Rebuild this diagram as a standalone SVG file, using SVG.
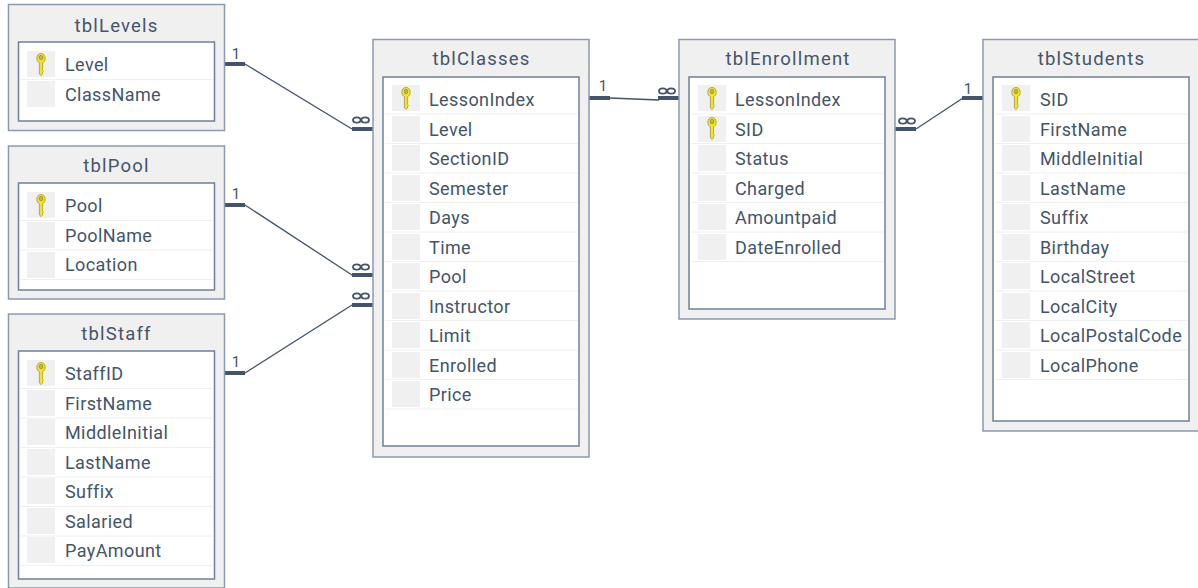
<svg xmlns="http://www.w3.org/2000/svg" width="1198" height="588" viewBox="0 0 1198 588">
<style>
text{font-family:"Roboto","Liberation Sans",sans-serif;fill:#44546a}
.o{fill:#f0f0f0;stroke:#8c9aae;stroke-width:1.5}
.i{fill:#fff;stroke:#6f8098;stroke-width:1.5}
.t{font-size:18.500px;text-anchor:middle;letter-spacing:1.200px}
.f{font-size:18px;letter-spacing:.4px}
.c{fill:#f0f0f0}
.s{stroke:#f0f0f0;stroke-width:1}
.l{fill:none;stroke:#44546a;stroke-width:1.3}
.b{fill:#44546a}
.n{font-size:15px;text-anchor:middle}
.inf{fill:none;stroke:#44546a;stroke-width:1.800}
</style>
<defs>
<g id="key"><path d="M0-10.500C2.700-10.500 4.200-8.500 4.200-5.800 4.200-3.600 3.200-2 1.600-1.300V6.500L2.600 7.500 1.600 8.500V10L0 11.500-1.600 10V-1.300C-3.200-2-4.200-3.600-4.200-5.800-4.200-8.500-2.700-10.500 0-10.500Z" fill="#f2e32a" stroke="#a79a2c" stroke-width=".8"/><ellipse cy="-6.500" rx="1.800" ry="2.200" fill="#c2b556" stroke="#8f8a3a" stroke-width=".7"/></g>
<g id="inf"><ellipse cx="-4.200" cy="0" rx="3.800" ry="2.700" class="inf"/><ellipse cx="4.200" cy="0" rx="3.800" ry="2.700" class="inf"/></g>
</defs>
<g id="connectors">
<path class="l" d="M245 64 352 129M245 205 352 275M245 373 352 305M610 98 659 100M916 129 963 98"/>
<path class="b" d="M224 62h21v4h-21zM352 127h21v4h-21zM224 203h21v4h-21zM352 273h21v4h-21zM224 371h21v4h-21zM352 303h21v4h-21zM589 96h21v4h-21zM658 96h21v4h-21zM895 127h21v4h-21zM962 96h21v4h-21z"/>
<text class="n" x="236" y="58.500">1</text><text class="n" x="236" y="198.500">1</text><text class="n" x="236" y="367">1</text><text class="n" x="603" y="91">1</text><text class="n" x="968" y="94">1</text>
<use href="#inf" x="361" y="120"/><use href="#inf" x="361" y="267"/><use href="#inf" x="361" y="296"/><use href="#inf" x="667" y="91"/><use href="#inf" x="907" y="121"/>
</g>
<g id="tblLevels">
<rect class="o" x="8.500" y="4.500" width="216" height="126"/><rect class="i" x="18.500" y="42" width="196" height="79"/>
<text class="t" x="116.500" y="32">tblLevels</text>
<path class="s" d="M20 79.500H213"/>
<rect class="c" x="27" y="51" width="28" height="26"/><rect class="c" x="27" y="81" width="28" height="26"/>
<use href="#key" x="41" y="64"/>
<text class="f" x="65" y="70.500">Level</text><text class="f" x="65" y="100.500">ClassName</text>
</g>
<g id="tblPool">
<rect class="o" x="8.500" y="146" width="216" height="153"/><rect class="i" x="18.500" y="183" width="196" height="107"/>
<text class="t" x="116.500" y="172">tblPool</text>
<path class="s" d="M20 220.500H213M20 250H213M20 279.500H213"/>
<rect class="c" x="27" y="192" width="28" height="26"/><rect class="c" x="27" y="222" width="28" height="26"/><rect class="c" x="27" y="252" width="28" height="26"/>
<use href="#key" x="41" y="205"/>
<text class="f" x="65" y="212">Pool</text><text class="f" x="65" y="241.500">PoolName</text><text class="f" x="65" y="271">Location</text>
</g>
<g id="tblStaff">
<rect class="o" x="8.500" y="314" width="216" height="274"/><rect class="i" x="18.500" y="351" width="196" height="228"/>
<text class="t" x="116.500" y="340">tblStaff</text>
<path class="s" d="M20 388.500H213M20 418H213M20 447.500H213M20 477H213M20 506.500H213M20 536H213M20 565.500H213"/>
<rect class="c" x="27" y="360" width="28" height="26"/><rect class="c" x="27" y="390" width="28" height="26"/><rect class="c" x="27" y="419" width="28" height="26"/><rect class="c" x="27" y="449" width="28" height="26"/><rect class="c" x="27" y="478" width="28" height="26"/><rect class="c" x="27" y="508" width="28" height="26"/><rect class="c" x="27" y="537" width="28" height="26"/>
<use href="#key" x="41" y="373"/>
<text class="f" x="65" y="380">StaffID</text><text class="f" x="65" y="409.500">FirstName</text><text class="f" x="65" y="439">MiddleInitial</text><text class="f" x="65" y="468.500">LastName</text><text class="f" x="65" y="498">Suffix</text><text class="f" x="65" y="527.500">Salaried</text><text class="f" x="65" y="557">PayAmount</text>
</g>
<g id="tblClasses">
<rect class="o" x="373" y="39.500" width="216" height="417.500"/><rect class="i" x="383" y="77" width="196" height="369"/>
<text class="t" x="481.500" y="65">tblClasses</text>
<path class="s" d="M385 114H578M385 143.500H578M385 173H578M385 202.500H578M385 232H578M385 261.500H578M385 291H578M385 320.500H578M385 350H578M385 379.500H578M385 409H578"/>
<rect class="c" x="392" y="85" width="28" height="26"/><rect class="c" x="392" y="116" width="28" height="26"/><rect class="c" x="392" y="145" width="28" height="26"/><rect class="c" x="392" y="175" width="28" height="26"/><rect class="c" x="392" y="204" width="28" height="26"/><rect class="c" x="392" y="234" width="28" height="26"/><rect class="c" x="392" y="263" width="28" height="26"/><rect class="c" x="392" y="293" width="28" height="26"/><rect class="c" x="392" y="322" width="28" height="26"/><rect class="c" x="392" y="352" width="28" height="26"/><rect class="c" x="392" y="381" width="28" height="26"/>
<use href="#key" x="406" y="98"/>
<text class="f" x="429" y="106">LessonIndex</text><text class="f" x="429" y="135.500">Level</text><text class="f" x="429" y="165">SectionID</text><text class="f" x="429" y="194.500">Semester</text><text class="f" x="429" y="224">Days</text><text class="f" x="429" y="253.500">Time</text><text class="f" x="429" y="283">Pool</text><text class="f" x="429" y="312.500">Instructor</text><text class="f" x="429" y="342">Limit</text><text class="f" x="429" y="371.500">Enrolled</text><text class="f" x="429" y="401">Price</text>
</g>
<g id="tblEnrollment">
<rect class="o" x="679" y="39.500" width="216" height="279.500"/><rect class="i" x="689" y="77" width="196" height="232"/>
<text class="t" x="788" y="65">tblEnrollment</text>
<path class="s" d="M691 114H884M691 143.500H884M691 173H884M691 202.500H884M691 232H884M691 261.500H884"/>
<rect class="c" x="698" y="85" width="28" height="26"/><rect class="c" x="698" y="116" width="28" height="26"/><rect class="c" x="698" y="145" width="28" height="26"/><rect class="c" x="698" y="175" width="28" height="26"/><rect class="c" x="698" y="204" width="28" height="26"/><rect class="c" x="698" y="234" width="28" height="26"/>
<use href="#key" x="712" y="98"/><use href="#key" x="712" y="128"/>
<text class="f" x="735" y="106">LessonIndex</text><text class="f" x="735" y="135.500">SID</text><text class="f" x="735" y="165">Status</text><text class="f" x="735" y="194.500">Charged</text><text class="f" x="735" y="224">Amountpaid</text><text class="f" x="735" y="253.500">DateEnrolled</text>
</g>
<g id="tblStudents">
<rect class="o" x="983" y="39.500" width="216" height="391.500"/><rect class="i" x="993" y="77" width="196" height="344"/>
<text class="t" x="1091.500" y="65">tblStudents</text>
<path class="s" d="M995 114H1188M995 143.500H1188M995 173H1188M995 202.500H1188M995 232H1188M995 261.500H1188M995 291H1188M995 320.500H1188M995 350H1188M995 379.500H1188"/>
<rect class="c" x="1002" y="85" width="28" height="26"/><rect class="c" x="1002" y="116" width="28" height="26"/><rect class="c" x="1002" y="145" width="28" height="26"/><rect class="c" x="1002" y="175" width="28" height="26"/><rect class="c" x="1002" y="204" width="28" height="26"/><rect class="c" x="1002" y="234" width="28" height="26"/><rect class="c" x="1002" y="263" width="28" height="26"/><rect class="c" x="1002" y="293" width="28" height="26"/><rect class="c" x="1002" y="322" width="28" height="26"/><rect class="c" x="1002" y="352" width="28" height="26"/>
<use href="#key" x="1016" y="98"/>
<text class="f" x="1040" y="106">SID</text><text class="f" x="1040" y="135.500">FirstName</text><text class="f" x="1040" y="165">MiddleInitial</text><text class="f" x="1040" y="194.500">LastName</text><text class="f" x="1040" y="224">Suffix</text><text class="f" x="1040" y="253.500">Birthday</text><text class="f" x="1040" y="283">LocalStreet</text><text class="f" x="1040" y="312.500">LocalCity</text><text class="f" x="1040" y="342">LocalPostalCode</text><text class="f" x="1040" y="371.500">LocalPhone</text>
</g>
</svg>
